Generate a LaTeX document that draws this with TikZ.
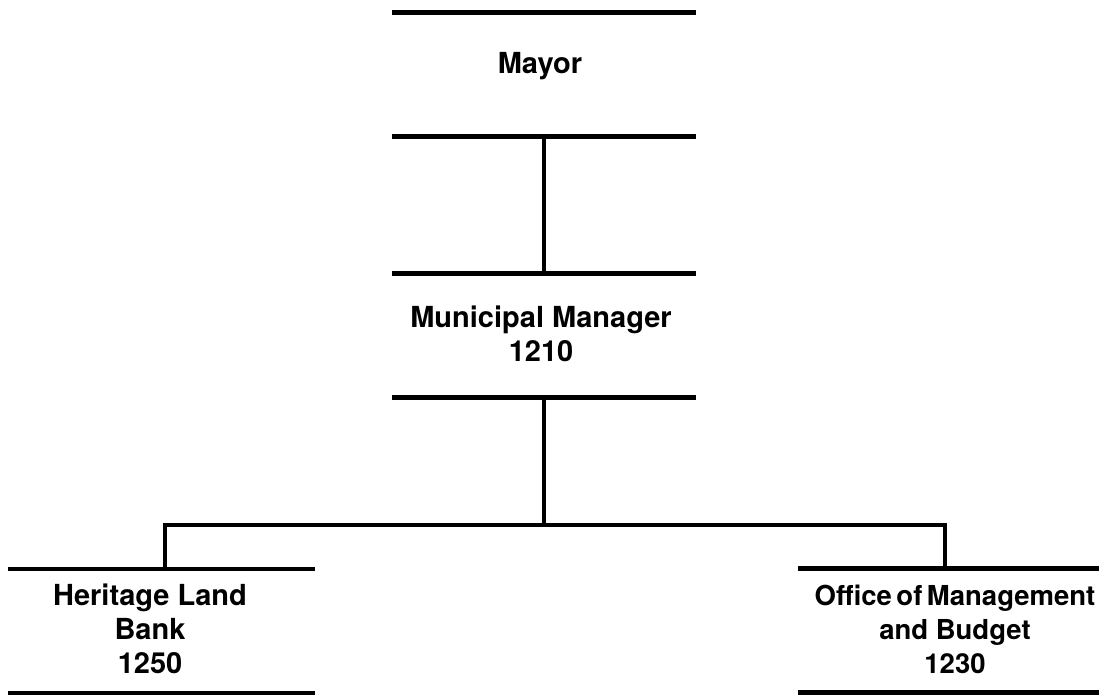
\documentclass[tikz,border=0pt]{standalone}
\usepackage{fontspec}
\setmainfont{TeX Gyre Heros}
\begin{document}
\begin{tikzpicture}[x=1pt,y=-1pt,
  rule/.style={line width=4.5pt},
  unit/.style={rectangle,inner sep=0pt,minimum width=#1,minimum height=124pt},
  lbl/.style={inner sep=0pt,align=center,font=\fontsize{29pt}{34pt}\selectfont\bfseries}]
\useasboundingbox (0,0) rectangle (1099,694);
% boxes (top and bottom rules only)
\node[unit=303pt] (mayor) at (544,74.5) {};
\node[unit=303pt] (mm) at (544,335.5) {};
\node[unit=307pt] (hlb) at (161.5,631) {};
\node[unit=301pt] (omb) at (948.5,630.5) {};
\foreach \b in {mayor,mm,hlb,omb}{
  \draw[rule] (\b.north west) -- (\b.north east);
  \draw[rule] (\b.south west) -- (\b.south east);
}
% labels
\node[lbl,anchor=base] (tmayor) at (540,73) {Mayor};
\node[lbl] (tmm) at (541,333.5) {Municipal Manager\\1210};
\node[lbl] (thlb) at (150,629) {Heritage Land\\Bank\\1250};
\node[lbl,font=\fontsize{27.5pt}{34pt}\selectfont\bfseries] (tomb) at (955,629) {\spaceskip=4.5pt\relax Office of Management\\and Budget\\1230};
% connectors
\coordinate (bus) at (544,525);
\coordinate (hlbtop) at (165,570);
\coordinate (ombtop) at (945,569);
\draw[rule] (mayor.south) -- (mm.north);
\draw[rule] (mm.south) -- (bus);
\draw[rule] (hlbtop) |- (bus) -| (ombtop);
\end{tikzpicture}
\end{document}
